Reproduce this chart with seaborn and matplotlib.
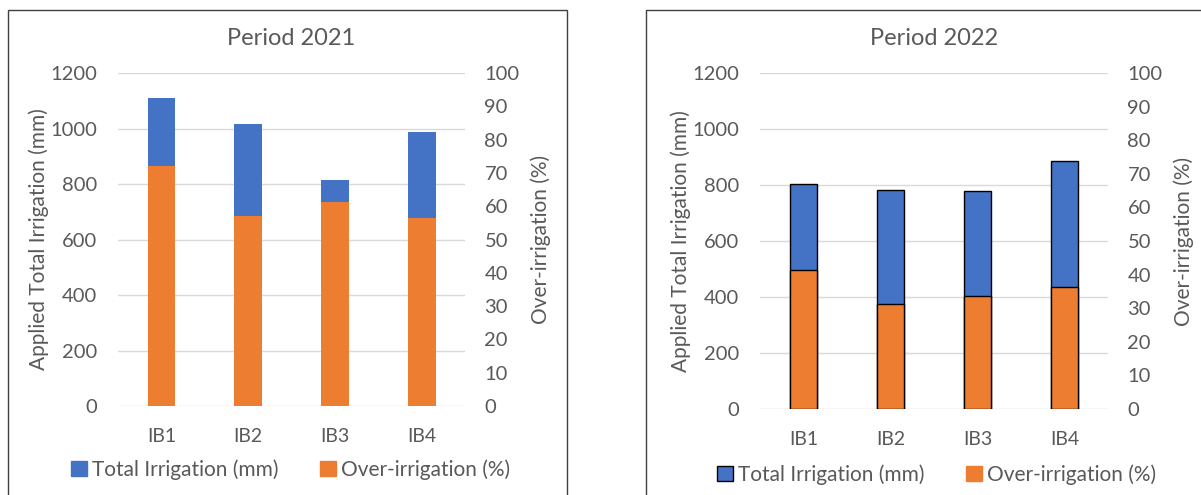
#%%
import matplotlib
matplotlib.use('Agg')
import matplotlib.pyplot as plt
import matplotlib.patches as mpatches
import seaborn as sns
import pandas as pd

#%%
sites = ['IB1', 'IB2', 'IB3', 'IB4']
total_2021 = [1110, 1018, 815, 986]
over_2021 = [72.1, 57.1, 61.2, 56.4]
total_2022 = [804, 781, 779, 886]
over_2022 = [41.4, 31.4, 33.7, 36.3]

blue = '#4472c4'
orange = '#ed7d31'
grey_txt = '#595959'

sns.set_theme(style='white')
plt.rcParams['font.family'] = ['Lato', 'DejaVu Sans']

fig = plt.figure(figsize=(12.01, 4.95), dpi=100)

# panel frames (bottom edge is cut off in the original)
fig.patches.append(mpatches.Rectangle((0.0067, -0.1), 0.4654, 1.0798, transform=fig.transFigure,
                                      fill=False, edgecolor='#404040', linewidth=1.0))
fig.patches.append(mpatches.Rectangle((0.5379, -0.1), 0.47, 1.0798, transform=fig.transFigure,
                                      fill=False, edgecolor='#404040', linewidth=1.0))


def panel(rect, title, total, over, edge, legend_y, legend_x):
    ax = fig.add_axes(rect)
    df = pd.DataFrame({'site': sites, 'total': total, 'over': over})
    lw = 1.0 if edge != 'none' else 0
    sns.barplot(data=df, x='site', y='total', color=blue, width=0.32, saturation=1,
                edgecolor=edge, linewidth=lw, ax=ax, zorder=2)
    ax.set_ylim(0, 1200)
    ax.set_yticks(range(0, 1201, 200))
    ax.set_xlim(-0.5, 3.5)
    ax.grid(axis='y', color='#d9d9d9', linewidth=1.0, zorder=0)
    ax.set_axisbelow(True)
    for s in ax.spines.values():
        s.set_visible(False)
    ax.set_xlabel('')
    ax.set_ylabel('Applied Total Irrigation (mm)', fontsize=15, color=grey_txt, labelpad=1)
    ax.tick_params(axis='both', colors=grey_txt, labelsize=14.5, length=0, pad=15)
    ax.tick_params(axis='x', labelsize=14, pad=16)
    ax.set_title(title, fontsize=17, color=grey_txt, pad=20)

    ax2 = ax.twinx()
    sns.barplot(data=df, x='site', y='over', color=orange, width=0.32, saturation=1,
                edgecolor=edge, linewidth=lw, ax=ax2, zorder=3)
    ax2.set_ylim(0, 100)
    ax2.set_yticks(range(0, 101, 10))
    ax2.set_xlim(-0.5, 3.5)
    for s in ax2.spines.values():
        s.set_visible(False)
    ax2.set_ylabel('Over-irrigation (%)', fontsize=15, color=grey_txt, labelpad=8)
    ax2.tick_params(axis='y', colors=grey_txt, labelsize=14.5, length=0, pad=14)
    ax2.grid(False)

    handles = [mpatches.Patch(facecolor=blue, edgecolor=edge if edge != 'none' else blue, linewidth=1.0),
               mpatches.Patch(facecolor=orange, edgecolor=orange, linewidth=1.0)]
    fig.legend(handles, ['Total Irrigation (mm)', 'Over-irrigation (%)'], loc='center',
               bbox_to_anchor=(legend_x, legend_y), ncol=2, frameon=False, fontsize=15,
               labelcolor=grey_txt, handlelength=0.75, handleheight=0.75, handletextpad=0.25,
               columnspacing=2.0)


panel([0.0983, 0.1798, 0.2889, 0.6727], 'Period 2021', total_2021, over_2021, 'none', 0.051, 0.242)
panel([0.6328, 0.1737, 0.2898, 0.6788], 'Period 2022', total_2022, over_2022, 'black', 0.042, 0.780)

fig.savefig('out.png', dpi=100)
